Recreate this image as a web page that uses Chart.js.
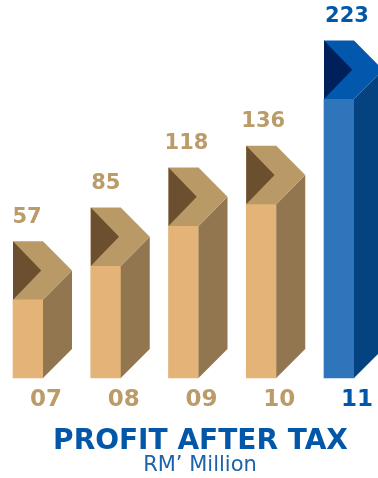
<!DOCTYPE html>
<html>
<head>
<meta charset="utf-8">
<title>Profit After Tax</title>
<script src="https://cdn.jsdelivr.net/npm/chart.js@4"></script>
<style>
  html, body { margin: 0; padding: 0; background: #fff; }
  canvas { display: block; }
</style>
</head>
<body>
<canvas id="patChart" width="378" height="478"></canvas>
<script>
const years = ['07', '08', '09', '10', '11'];
const profit = [57, 85, 118, 136, 223];
const titleText = 'PROFIT AFTER TAX';
const unitText = 'RM\u2019 Million';

// last year stands out in blue, the rest are tan
const tan = { front: '#e3b377', side: '#927650', cap: '#b99a67', notch: '#6b4f2e', text: '#bb9b68' };
const blue = { front: '#2e75bc', side: '#04437f', cap: '#0258ac', notch: '#00205b', text: '#0257a8' };
const palette = years.map((y, i) => (i === years.length - 1 ? blue : tan));

const FONT = '"DejaVu Sans", sans-serif';
const BLUE_TITLE = '#0257a8';
const BAR_W = 30;
const DEPTH = 29;     // how far the side face runs to the right
const CAP_H = 58.5;   // height of the arrow cap above the front face
const AXIS_MIN = -7.6;
const AXIS_MAX = 304.8;
const valueDx = [-1, 0, 3, 2, 8];

function poly(ctx, color, pts) {
  ctx.fillStyle = color;
  ctx.beginPath();
  pts.forEach((p, i) => (i ? ctx.lineTo(p[0], p[1]) : ctx.moveTo(p[0], p[1])));
  ctx.closePath();
  ctx.fill();
}

// side face, arrow cap and value label on top of each library-drawn bar
const extrude = {
  id: 'extrude',
  afterDatasetsDraw(chart) {
    const { ctx } = chart;
    const bars = chart.getDatasetMeta(0).data;
    ctx.save();
    bars.forEach((bar, i) => {
      const c = palette[i];
      const l = bar.x - BAR_W / 2;
      const r = bar.x + BAR_W / 2;
      const top = bar.y;
      const base = bar.base;
      const capTop = top - CAP_H;
      const mid = top - CAP_H / 2;

      poly(ctx, c.side, [[r, top], [r + DEPTH, mid], [r + DEPTH, base - DEPTH], [r, base]]);
      poly(ctx, c.cap, [[l, capTop], [r, capTop], [r + DEPTH, mid], [r, top], [l, top]]);
      poly(ctx, c.notch, [[l, capTop], [l + CAP_H / 2 - 1, mid], [l, top]]);

      ctx.fillStyle = c.text;
      ctx.font = 'bold 21px ' + FONT;
      ctx.textAlign = 'center';
      ctx.textBaseline = 'middle';
      ctx.fillText(String(profit[i]), bar.x + valueDx[i], capTop - 24);
    });

    ctx.textAlign = 'center';
    ctx.textBaseline = 'middle';
    ctx.fillStyle = BLUE_TITLE;
    ctx.font = 'bold 28px ' + FONT;
    ctx.fillText(titleText, 200.5, 442);
    ctx.fillStyle = '#1c63ab';
    ctx.font = '21px ' + FONT;
    ctx.fillText(unitText, 200, 466);
    ctx.restore();
  }
};

new Chart(document.getElementById('patChart'), {
  type: 'bar',
  data: {
    labels: years,
    datasets: [{
      data: profit,
      base: AXIS_MIN,
      backgroundColor: palette.map((c) => c.front),
      barThickness: BAR_W,
      clip: false
    }]
  },
  options: {
    responsive: false,
    animation: false,
    layout: { padding: { left: 28, right: 39, top: 0, bottom: 0 } },
    plugins: { legend: { display: false }, tooltip: { enabled: false }, title: { display: false } },
    scales: {
      x: {
        offset: false,
        border: { display: false },
        grid: { display: false, drawTicks: false },
        afterFit: (scale) => { scale.height = 100; },
        ticks: {
          autoSkip: false,
          maxRotation: 0,
          padding: 8,
          labelOffset: 18,
          color: (ctx) => palette[ctx.index].text,
          font: { family: FONT, size: 23, weight: 'bold' }
        }
      },
      y: { display: false, min: AXIS_MIN, max: AXIS_MAX }
    }
  },
  plugins: [extrude]
});
</script>
</body>
</html>
